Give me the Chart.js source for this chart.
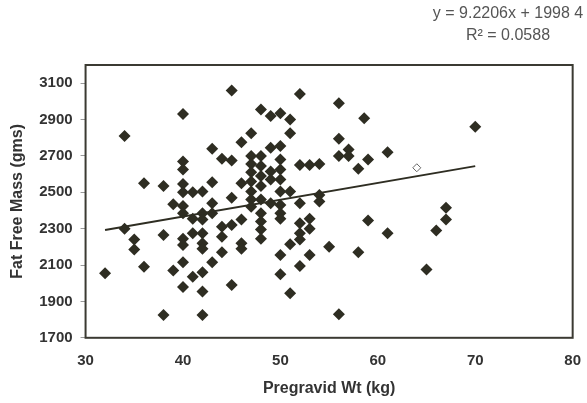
<!DOCTYPE html>
<html>
<head>
<meta charset="utf-8">
<script src="https://cdn.jsdelivr.net/npm/chart.js@4.4.1/dist/chart.umd.min.js"></script>
<style>
  body { margin: 0; background: #fff; }
  #wrap { width: 587px; height: 403px; }
</style>
</head>
<body>
<div id="wrap"><canvas id="myChart" width="587" height="403"></canvas></div>
<script>
// scatter data
var wtKg = [32, 34, 34, 35, 35, 36, 36, 38, 38, 38, 39, 39,
  40, 40, 40, 40, 40, 40, 40, 40, 40, 40, 40,
  41, 41, 41, 41,
  42, 42, 42, 42, 42, 42, 42, 42, 42,
  43, 43, 43, 43, 43,
  44, 44, 44, 44,
  45, 45, 45, 45, 45,
  46, 46, 46, 46, 46,
  47, 47, 47, 47, 47, 47, 47, 47,
  48, 48, 48, 48, 48, 48, 48, 48, 48, 48,
  49, 49, 49, 49, 49,
  50, 50, 50, 50, 50, 50, 50, 50, 50, 50, 50,
  51, 51, 51, 51, 51,
  52, 52, 52, 52, 52, 52, 52,
  53, 53, 53, 53,
  54, 54, 54,
  55, 56, 56, 56, 56, 57, 57, 58, 58, 58.6, 59, 59, 61, 61,
  65, 66, 67, 67, 70];
var ffmGms = [2055, 2810, 2300, 2240, 2185, 2550, 2090, 2535, 2265, 1825, 2435, 2070,
  2930, 2670, 2625, 2545, 2500, 2425, 2385, 2245, 2210, 2115, 1980,
  2500, 2355, 2275, 2035,
  2505, 2385, 2350, 2275, 2220, 2190, 2060, 1955, 1825,
  2740, 2555, 2440, 2385, 2115,
  2685, 2310, 2255, 2170,
  3060, 2675, 2470, 2320, 1990,
  2775, 2550, 2350, 2220, 2190,
  2825, 2700, 2655, 2610, 2560, 2505, 2460, 2420,
  2955, 2700, 2645, 2590, 2535, 2460, 2385, 2340, 2295, 2245,
  2920, 2745, 2615, 2570, 2440,
  2935, 2755, 2680, 2625, 2570, 2505, 2430, 2385, 2355, 2155, 2050,
  2900, 2825, 2505, 2215, 1945,
  3040, 2650, 2440, 2330, 2275, 2240, 2095,
  2650, 2355, 2300, 2155,
  2655, 2485, 2450,
  2200, 2990, 2795, 2700, 1830, 2735, 2700, 2630, 2170, 2907, 2680, 2345, 2720, 2275,
  2075, 2290, 2415, 2350, 2860];

// the one open marker
var openX = [64];
var openY = [2635];

// linear trendline end points
var trendX = [32, 70];
var trendY = [2293, 2644];

var yTicks = [1700, 1900, 2100, 2300, 2500, 2700, 2900, 3100];
var eqLines = ["y = 9.2206x + 1998 4", "R\u00b2 = 0.0588"];

function toPoints(xs, ys) {
  var pts = [];
  for (var i = 0; i < xs.length; i++) {
    pts.push({ x: xs[i], y: ys[i] });
  }
  return pts;
}

var markColor = "#2e2d22";
var textColor = "#333";
var fontFam = '"Liberation Sans", Arial, sans-serif';

// frame round the plot area + trendline equation
var framePlugin = {
  id: "frame",
  afterDatasetsDraw: function (chart) {
    var a = chart.chartArea;
    var ctx = chart.ctx;
    ctx.save();
    ctx.strokeStyle = "#3b3a32";
    ctx.lineWidth = 2;
    ctx.strokeRect(a.left, a.top, a.right - a.left, a.bottom - a.top);
    ctx.restore();
  },
  afterDraw: function (chart) {
    var ctx = chart.ctx;
    ctx.save();
    ctx.font = "16px " + fontFam;
    ctx.fillStyle = "#555";
    ctx.textAlign = "center";
    ctx.textBaseline = "middle";
    ctx.fillText(eqLines[0], chart.width - 79, 14);
    ctx.fillText(eqLines[1], chart.width - 79, 36);
    ctx.restore();
  },
};

var ctx = document.getElementById("myChart").getContext("2d");
var myChart = new Chart(ctx, {
  type: "scatter",
  data: {
    datasets: [
      {
        type: "line",
        data: toPoints(trendX, trendY),
        borderColor: markColor,
        borderWidth: 2,
        pointRadius: 0,
        fill: false,
      },
      {
        data: toPoints(openX, openY),
        pointStyle: "rectRot",
        pointRadius: 4,
        backgroundColor: "#fff",
        borderColor: "#666",
        borderWidth: 1,
      },
      {
        data: toPoints(wtKg, ffmGms),
        pointStyle: "rectRot",
        pointRadius: 6,
        backgroundColor: markColor,
        borderWidth: 0,
      },
    ],
  },
  options: {
    responsive: false,
    animation: false,
    layout: { padding: { left: 8, right: -2, top: 65, bottom: 5 } },
    plugins: {
      legend: { display: false },
      tooltip: { enabled: false },
    },
    scales: {
      x: {
        type: "linear",
        min: 30,
        max: 80,
        grid: { display: false },
        border: { display: false },
        ticks: {
          stepSize: 10,
          padding: 6,
          color: textColor,
          font: { family: fontFam, size: 15, weight: "bold" },
        },
        title: {
          display: true,
          text: "Pregravid Wt (kg)",
          color: textColor,
          padding: { top: 3, bottom: 0 },
          font: { family: fontFam, size: 16, weight: "bold" },
        },
      },
      y: {
        type: "linear",
        min: 1700,
        max: 3200,
        afterBuildTicks: function (scale) {
          scale.ticks = yTicks.map(function (v) {
            return { value: v };
          });
        },
        grid: {
          display: true,
          drawOnChartArea: false,
          tickLength: 5,
          color: "#999",
        },
        border: { display: false },
        ticks: {
          padding: 8,
          color: textColor,
          font: { family: fontFam, size: 15, weight: "bold" },
          callback: function (v) {
            return String(v);
          },
        },
        title: {
          display: true,
          text: "Fat Free Mass (gms)",
          color: textColor,
          padding: { top: 0, bottom: 4 },
          font: { family: fontFam, size: 16, weight: "bold" },
        },
      },
    },
  },
  plugins: [framePlugin],
});
</script>
</body>
</html>
